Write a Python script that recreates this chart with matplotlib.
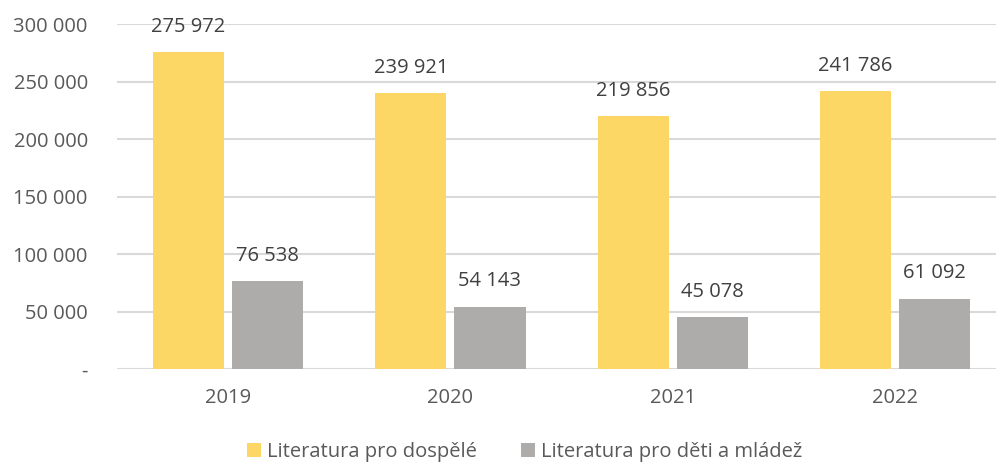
import matplotlib.pyplot as plt
import numpy as np
from matplotlib.ticker import FuncFormatter

years = ['2019', '2020', '2021', '2022']
adult = [275972, 239921, 219856, 241786]
kids = [76538, 54143, 45078, 61092]
series_names = ['Literatura pro dospělé', 'Literatura pro děti a mládež']

plt.rcParams['font.family'] = ['Open Sans', 'DejaVu Sans']
txt = '#595959'
fs = 14.5


def fmt(v, pos=None):
    if v == 0:
        return '-'
    return '{:,.0f}'.format(v).replace(',', ' ')


fig = plt.figure(figsize=(9.96, 4.65), dpi=100)
ax = fig.add_axes([0.1175, 0.2065, 0.8825, 0.7415])

x = np.arange(len(years))
w = 0.32
off = 0.178
b1 = ax.bar(x - off, adult, w, color='#FDD766', label=series_names[0], zorder=3)
b2 = ax.bar(x + off, kids, w, color='#AEABAB', label=series_names[1], zorder=3)

for bars in (b1, b2):
    for r in bars:
        ax.annotate(fmt(r.get_height()), (r.get_x() + r.get_width() / 2, r.get_height()),
                    xytext=(0, 11), textcoords='offset points', ha='center', va='bottom',
                    fontsize=fs, color='#404040')

ax.set_xlim(-0.5, 3.455)
ax.set_ylim(0, 300000)
ax.set_yticks(np.arange(0, 300001, 50000))
ax.yaxis.set_major_formatter(FuncFormatter(fmt))
ax.set_xticks(x)
ax.set_xticklabels(years)
ax.tick_params(axis='y', length=0, pad=21, labelsize=fs, labelcolor=txt)
ax.tick_params(axis='x', length=0, pad=14, labelsize=fs, labelcolor=txt)
ax.grid(axis='y', color='#D9D9D9', linewidth=1.5, zorder=0)
for s in ax.spines.values():
    s.set_visible(False)

fig.legend(loc='center', bbox_to_anchor=(0.527, 0.028), ncol=2, frameon=False,
           fontsize=fs, labelcolor=txt, handlelength=0.7, handleheight=0.7,
           handletextpad=0.3, columnspacing=2.2, borderpad=0)

plt.savefig('out.png')
